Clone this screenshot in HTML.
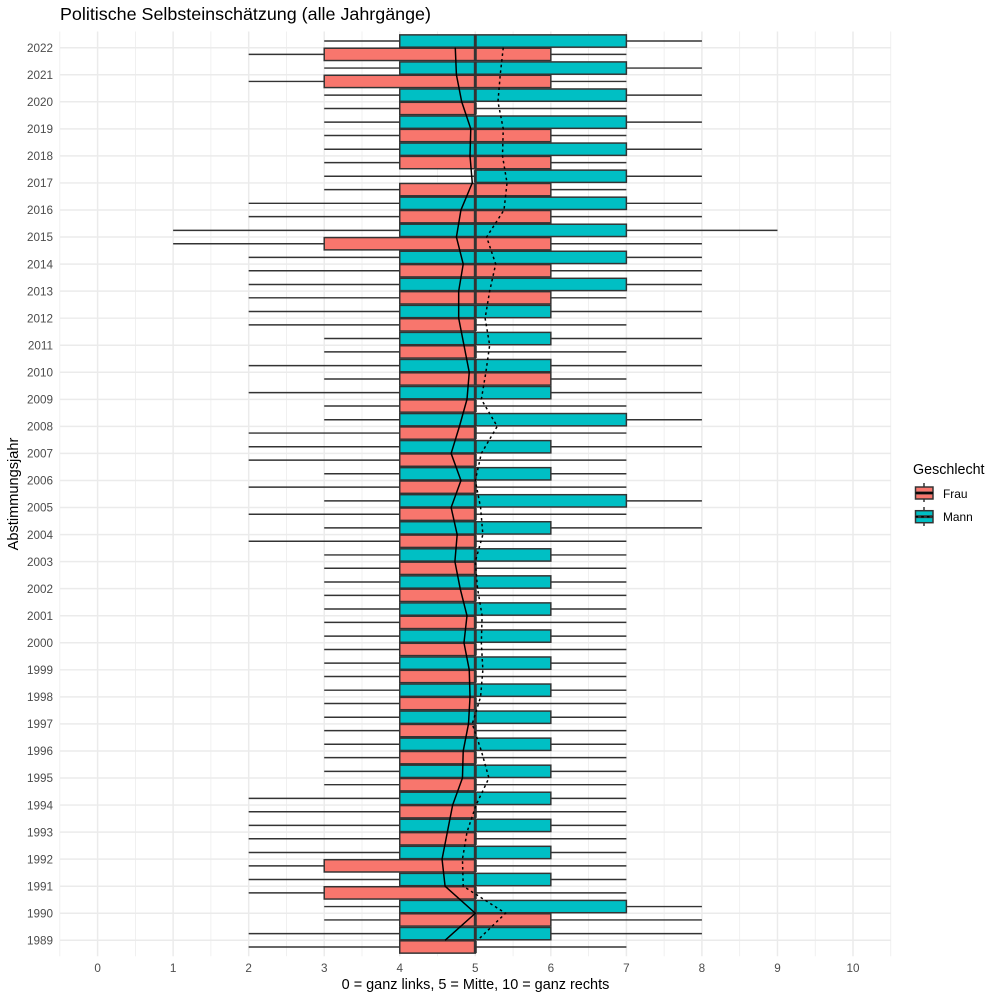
<!DOCTYPE html>
<html>
<head>
<meta charset="utf-8">
<title>Politische Selbsteinschätzung</title>
<style>
html,body{margin:0;padding:0;background:#fff;width:1000px;height:1000px;overflow:hidden}
svg{display:block;font-family:"Liberation Sans",sans-serif}
</style>
</head>
<body>
<svg id="chart" width="1000" height="1000" viewBox="0 0 1000 1000" xmlns="http://www.w3.org/2000/svg">
  <rect x="0" y="0" width="1000" height="1000" fill="#fff"/>
  <g id="grid"></g>
  <g id="boxes"></g>
  <g id="means"></g>
  <g id="xticks"></g>
  <g id="yticks"></g>
  <text x="60" y="20" font-size="17.9" fill="#000">Politische Selbsteinschätzung (alle Jahrgänge)</text>
  <text x="475.5" y="989" font-size="14.45" fill="#000" text-anchor="middle">0 = ganz links, 5 = Mitte, 10 = ganz rechts</text>
  <text transform="translate(18,494) rotate(-90)" font-size="14.6" fill="#000" text-anchor="middle">Abstimmungsjahr</text>
  <g>
    <text x="913" y="474" font-size="14.3" fill="#000">Geschlecht</text>
    <g>
      <line x1="924" x2="924" y1="483" y2="502" stroke="#333" stroke-width="1.48"/>
      <rect x="915.5" y="487" width="17.5" height="12" fill="#F8766D" stroke="#333" stroke-width="1.48"/>
      <line x1="915.5" x2="933" y1="493" y2="493" stroke="#333" stroke-width="2.96"/>
      <line x1="915.5" x2="933" y1="493" y2="493" stroke="#000" stroke-width="1.48"/>
      <text x="943" y="498" font-size="11.9" fill="#000">Frau</text>
    </g>
    <g>
      <line x1="924" x2="924" y1="507" y2="526" stroke="#333" stroke-width="1.48"/>
      <rect x="915.5" y="510.7" width="17.5" height="12" fill="#00BFC4" stroke="#333" stroke-width="1.48"/>
      <line x1="915.5" x2="933" y1="516.7" y2="516.7" stroke="#333" stroke-width="2.96"/>
      <line x1="915.5" x2="933" y1="516.7" y2="516.7" stroke="#000" stroke-width="1.48" stroke-dasharray="2.6 3.1"/>
      <text x="943" y="521" font-size="11.9" fill="#000">Mann</text>
    </g>
  </g>
</svg>
<script>
const years = [2022,2021,2020,2019,2018,2017,2016,2015,2014,2013,2012,2011,2010,2009,2008,2007,2006,2005,2004,2003,2002,2001,2000,1999,1998,1997,1996,1995,1994,1993,1992,1991,1990,1989];
const xTicks = [0,1,2,3,4,5,6,7,8,9,10];
const xMinorTicks = [-0.5,0.5,1.5,2.5,3.5,4.5,5.5,6.5,7.5,8.5,9.5,10.5];

const mannLow  = [3,3,3,3,3,3,2,1,2,2,2,3,2,2,3,2,3,3,3,3,3,3,3,3,3,3,3,3,2,2,2,2,3,2];
const mannQ1   = [4,4,4,4,4,5,4,4,4,4,4,4,4,4,4,4,4,4,4,4,4,4,4,4,4,4,4,4,4,4,4,4,4,4];
const mannMed  = [5,5,5,5,5,5,5,5,5,5,5,5,5,5,5,5,5,5,5,5,5,5,5,5,5,5,5,5,5,5,5,5,5,5];
const mannQ3   = [7,7,7,7,7,7,7,7,7,7,6,6,6,6,7,6,6,7,6,6,6,6,6,6,6,6,6,6,6,6,6,6,7,6];
const mannHigh = [8,8,8,8,8,8,8,9,8,8,8,8,8,8,8,8,7,8,8,7,7,7,7,7,7,7,7,7,7,7,7,7,8,8];

const frauLow  = [2,2,3,3,3,3,2,1,2,2,2,3,3,3,2,2,2,2,2,3,3,3,3,3,3,3,3,3,2,2,2,2,3,2];
const frauQ1   = [3,3,4,4,4,4,4,3,4,4,4,4,4,4,4,4,4,4,4,4,4,4,4,4,4,4,4,4,4,4,3,3,4,4];
const frauMed  = [5,5,5,5,5,5,5,5,5,5,5,5,5,5,5,5,5,5,5,5,5,5,5,5,5,5,5,5,5,5,5,5,5,5];
const frauQ3   = [6,6,5,6,6,6,6,6,6,6,5,5,6,5,5,5,5,5,5,5,5,5,5,5,5,5,5,5,5,5,5,5,6,5];
const frauHigh = [7,7,7,7,7,7,8,8,8,7,7,7,7,7,7,7,7,7,7,7,7,7,7,7,7,7,7,7,7,7,7,7,8,7];

const frauMean = [4.735,4.75,4.82,4.94,4.93,4.96,4.81,4.75,4.84,4.78,4.78,4.85,4.92,4.89,4.79,4.68,4.81,4.68,4.76,4.73,4.80,4.89,4.85,4.92,4.93,4.91,4.84,4.83,4.70,4.63,4.56,4.60,5.0,4.60];
const mannMean = [5.37,5.33,5.30,5.37,5.36,5.42,5.38,5.15,5.27,5.19,5.13,5.19,5.14,5.08,5.29,5.08,5.0,5.07,5.10,5.0,5.03,5.09,5.08,5.10,5.07,4.96,5.08,5.18,5.01,4.89,4.83,4.84,5.40,5.03];

const NS = 'http://www.w3.org/2000/svg';
const PANEL_LEFT = 59.5, PANEL_RIGHT = 891, PANEL_TOP = 31.5, PANEL_BOTTOM = 956.2;
const xScale = v => 97.6 + v * 75.54;
const yStep = (940.3 - 47.7) / (years[0] - years[years.length - 1]);
const yScale = yr => 47.7 + (years[0] - yr) * yStep;
const DODGE = 0.247 * yStep, BOX_H = 0.455 * yStep;

function mk(parent, tag, attrs) {
  const el = document.createElementNS(NS, tag);
  for (const k in attrs) el.setAttribute(k, attrs[k]);
  parent.appendChild(el);
  return el;
}

const grid = document.getElementById('grid');
xMinorTicks.forEach(v => {
  const l = mk(grid, 'line', {x1: xScale(v), x2: xScale(v), y1: PANEL_TOP, y2: PANEL_BOTTOM, stroke: '#EBEBEB', 'stroke-width': 0.74});
  
  
});
xTicks.forEach(v => {
  const l = mk(grid, 'line', {x1: xScale(v), x2: xScale(v), y1: PANEL_TOP, y2: PANEL_BOTTOM, stroke: '#EBEBEB', 'stroke-width': 1.48});
  
  
});
years.forEach(yr => {
  const l = mk(grid, 'line', {x1: PANEL_LEFT, x2: PANEL_RIGHT, y1: yScale(yr), y2: yScale(yr), stroke: '#EBEBEB', 'stroke-width': 1.48});
  
  
});

const xticks = document.getElementById('xticks');
xTicks.forEach(v => {
  const t = mk(xticks, 'text', {x: xScale(v), y: 972, 'font-size': 11.7, fill: '#4D4D4D', 'text-anchor': 'middle'});
  t.textContent = v;
  
  
});
const yticks = document.getElementById('yticks');
years.forEach(yr => {
  const t = mk(yticks, 'text', {x: 53, y: yScale(yr) + 4.2, 'font-size': 11.7, fill: '#4D4D4D', 'text-anchor': 'end'});
  t.textContent = yr;
  
  
});

function drawBox(parent, name, yc, low, q1, med, q3, high, fill) {
  const g = mk(parent, 'g', {});
  
  
  mk(g, 'line', {x1: xScale(low), x2: xScale(q1), y1: yc, y2: yc, stroke: '#333', 'stroke-width': 1.48});
  mk(g, 'line', {x1: xScale(q3), x2: xScale(high), y1: yc, y2: yc, stroke: '#333', 'stroke-width': 1.48});
  mk(g, 'rect', {x: xScale(q1), y: yc - BOX_H / 2, width: xScale(q3) - xScale(q1), height: BOX_H, fill: fill, stroke: '#333', 'stroke-width': 1.48});
  mk(g, 'line', {x1: xScale(med), x2: xScale(med), y1: yc - BOX_H / 2, y2: yc + BOX_H / 2, stroke: '#333', 'stroke-width': 2.96});
}

const boxes = document.getElementById('boxes');
for (let i = years.length - 1; i >= 0; i--) {
  const yc = yScale(years[i]);
  drawBox(boxes, 'box-frau-' + years[i], yc + DODGE, frauLow[i], frauQ1[i], frauMed[i], frauQ3[i], frauHigh[i], '#F8766D');
  drawBox(boxes, 'box-mann-' + years[i], yc - DODGE, mannLow[i], mannQ1[i], mannMed[i], mannQ3[i], mannHigh[i], '#00BFC4');
}

const means = document.getElementById('means');
const frauPts = years.map((yr, i) => xScale(frauMean[i]) + ',' + yScale(yr)).join(' ');
const mannPts = years.map((yr, i) => xScale(mannMean[i]) + ',' + yScale(yr)).join(' ');
const frauLine = mk(means, 'polyline', {points: frauPts, fill: 'none', stroke: '#000', 'stroke-width': 1.48});


const mannLine = mk(means, 'polyline', {points: mannPts, fill: 'none', stroke: '#000', 'stroke-width': 1.48, 'stroke-dasharray': '2.6 3.1'});


</script>
</body>
</html>
